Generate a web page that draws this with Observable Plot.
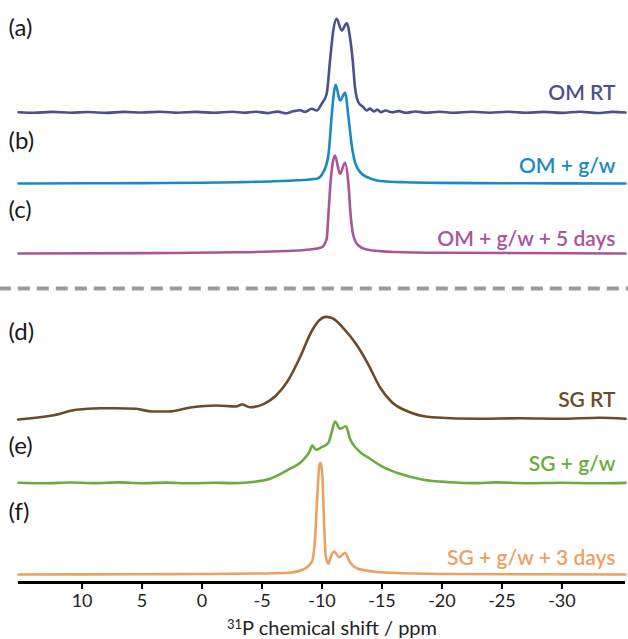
<!DOCTYPE html>
<html>
<head>
<meta charset="utf-8">
<script src="https://cdn.jsdelivr.net/npm/d3@7"></script>
<script src="https://cdn.jsdelivr.net/npm/@observablehq/plot@0.6"></script>
<style>
  html, body { margin: 0; padding: 0; background: #ffffff; }
  #chart svg { display: block; }
</style>
</head>
<body>
<div id="chart"></div>
<script>
// ---- data (ppm, intensity above own baseline) ----
const letters = ["(a)", "(b)", "(c)", "(d)", "(e)", "(f)"];
const seriesNames = ["OM RT", "OM + g/w", "OM + g/w + 5 days", "SG RT", "SG + g/w", "SG + g/w + 3 days"];
const stackOffsets = [470, 399, 329, 163, 99, 8];
const separatorLevel = 294;
const xTicks = [10, 5, 0, -5, -10, -15, -20, -25, -30];
const xLabelSup = "31";
const xLabelMain = "P chemical shift / ppm";

const omRT = [[15.3,0.3],[14,-0.3],[12.5,0.6],[11,-0.2],[9.5,0.5],[8,-0.4],[6.5,0.6],[5,0],[3.5,0.8],[2,-0.2],[0.5,0.6],[-1,-0.3],[-2.5,0.7],[-3.5,-0.2],[-4.5,0.8],[-5.5,-0.6],[-6.3,0.9],[-7,-0.7],[-7.6,1.2],[-8.17,2.2],[-8.58,0.6],[-9.14,3.7],[-9.56,2],[-9.97,8.7],[-10.39,18.7],[-10.67,52],[-10.94,82],[-11.22,93.7],[-11.64,82],[-12.06,89.3],[-12.33,75.3],[-12.56,52],[-12.75,25.3],[-13.03,10.3],[-13.44,5.3],[-13.72,2],[-14.0,3.9],[-14.33,1.1],[-14.61,2.9],[-14.9,0.3],[-15.3,2],[-15.8,0.2],[-16.4,1.4],[-17,-0.2],[-17.8,1],[-18.7,-0.2],[-19.8,0.8],[-21,-0.3],[-22.5,0.7],[-24,-0.2],[-25.5,0.7],[-27,-0.3],[-28.5,0.6],[-30,-0.4],[-31.5,0.8],[-33,-0.5],[-34.2,0.6],[-35.3,0]];
const omGW = [[15.3,0],[10,0.2],[5,0.4],[0,0.8],[-3,1.3],[-6,2.2],[-8,3.3],[-9.56,4.7],[-10.11,11.3],[-10.53,28],[-10.81,68],[-11.0,91.3],[-11.14,98.7],[-11.5,83],[-11.92,90.7],[-12.19,68],[-12.48,38],[-12.75,21.3],[-13.31,9.7],[-14.28,4],[-14.83,2.5],[-17,1.2],[-20,0.6],[-25,0.3],[-30,0.1],[-35.3,0]];
const omGW5 = [[15.3,0],[5,0.4],[-3,1.2],[-7,2.5],[-9,4],[-9.97,6.3],[-10.39,14.7],[-10.53,38],[-10.67,64.7],[-10.86,88],[-11.08,98],[-11.5,79.7],[-11.92,90.7],[-12.19,71.3],[-12.39,38],[-12.61,18],[-13.03,8],[-13.72,4],[-16,1.5],[-20,0.7],[-35.3,0]];
const sgRT = [[15.33,0],[12.5,4],[10.5,9.7],[8.5,11.3],[7.17,11.3],[5.5,10.7],[4.17,8],[2.83,8],[0.83,12.3],[-1.17,14],[-2.83,13],[-3.33,15],[-4.0,12.3],[-5.17,15.7],[-6.17,24],[-7.17,39],[-8.17,62.3],[-9.17,89],[-9.8,99.5],[-10.3,102.6],[-10.83,101.5],[-11.83,90.7],[-12.83,75.7],[-13.83,55.7],[-14.83,32.3],[-15.83,17.3],[-17.17,8],[-19.17,2.3],[-23.17,0.7],[-26.5,1.2],[-29.83,0.7],[-33.17,1.7],[-35.3,0.7]];
const sgGW = [[15.3,0.8],[13,0.3],[11,1],[9,0.4],[7,1.1],[5,0.3],[3,0.9],[1,0.2],[-1,0.8],[-2.5,0.4],[-4.0,1.3],[-5.67,4.7],[-7.06,13],[-8.44,23.7],[-8.94,31.3],[-9.19,38],[-9.5,33.7],[-9.97,36.3],[-10.53,40.7],[-10.81,51.3],[-11.08,62],[-11.5,54.7],[-12.0,57.3],[-12.33,44.7],[-12.89,34.7],[-14.0,24.7],[-15.11,16.3],[-16.5,9.7],[-18.44,3.7],[-20.67,1.3],[-23,0.4],[-24.5,1.1],[-27,0.3],[-30,0.8],[-33,0.2],[-35.3,0.6]];
const sgGW3 = [[15.3,0],[5,0.3],[0,0.5],[-5,1],[-7.33,1.7],[-8.44,5],[-9.14,12.3],[-9.42,35.7],[-9.61,79],[-9.78,109],[-9.89,111.7],[-10.03,99],[-10.17,52.3],[-10.31,19],[-10.53,10.7],[-10.72,17.3],[-11.0,23],[-11.44,17.3],[-11.92,21.7],[-12.33,12.3],[-12.89,6.3],[-14.28,3],[-15.67,1.7],[-20,0.5],[-35.3,0]];

const spectra = [omRT, omGW, omGW5, sgRT, sgGW, sgGW3];

// ---- styling / layout ----
const colors = ["#4d4f8e", "#1b8ac4", "#a8559b", "#6e4b27", "#6aac3f", "#eba261"];
const letterDy = [84, 42, 43, 87, 37, 62];
const nameDy = [19.5, 17, 14, 19, 19, 16.5];
const font = "Lato, 'Open Sans', sans-serif";

const marks = [];
spectra.forEach((pts, i) => {
  const rows = pts.map(([p, v]) => ({ppm: p, y: v + stackOffsets[i]}));
  marks.push(Plot.line(rows, {x: "ppm", y: "y", stroke: colors[i], strokeWidth: 2.6, curve: "monotone-x"}));
});

marks.push(Plot.ruleY([separatorLevel], {x1: 16.9, x2: -35.6, stroke: "#9b9b9b", strokeWidth: 4, strokeDasharray: "12,7"}));
marks.push(Plot.ruleY([0], {stroke: "#000", strokeWidth: 3}));
marks.push(Plot.axisX({ticks: xTicks, tickSize: 7, tickPadding: 5, tickFormat: d => String(d), fontSize: 18, strokeWidth: 2, label: null, fill: "#222"}));
marks.push(Plot.text([xLabelSup + xLabelMain], {frameAnchor: "bottom", lineAnchor: "middle", dy: 46, dx: 10, fontSize: 20, fill: "#222", fontFamily: font, className: "xtitle"}));

marks.push(Plot.text(letters, {
  frameAnchor: "left", textAnchor: "start", dx: -10,
  y: (d, i) => stackOffsets[i] + letterDy[i],
  text: d => d, fontSize: 24, fill: "#1a1a1a", fontFamily: font
}));
marks.push(Plot.text(seriesNames, {
  frameAnchor: "right", textAnchor: "end", dx: -10,
  y: (d, i) => stackOffsets[i] + nameDy[i],
  text: d => d, fontSize: 21, fontWeight: 600, fill: (d, i) => colors[i], fontFamily: font
}));

const chart = Plot.plot({
  width: 628,
  height: 639,
  marginLeft: 18,
  marginRight: 3,
  marginTop: 0,
  marginBottom: 57,
  style: {fontFamily: font, background: "#ffffff", overflow: "visible"},
  x: {domain: [15.3, -35.3], axis: null},
  y: {domain: [0, 582], axis: null},
  marks
});
document.getElementById("chart").appendChild(chart);

// superscript for the axis title
d3.select(chart).selectAll(".xtitle text").each(function () {
  const t = d3.select(this);
  t.text(null);
  t.append("tspan").attr("font-size", 13).attr("dy", "-0.45em").text(xLabelSup);
  t.append("tspan").attr("dy", "0.3em").text(xLabelMain);
});
</script>
</body>
</html>
